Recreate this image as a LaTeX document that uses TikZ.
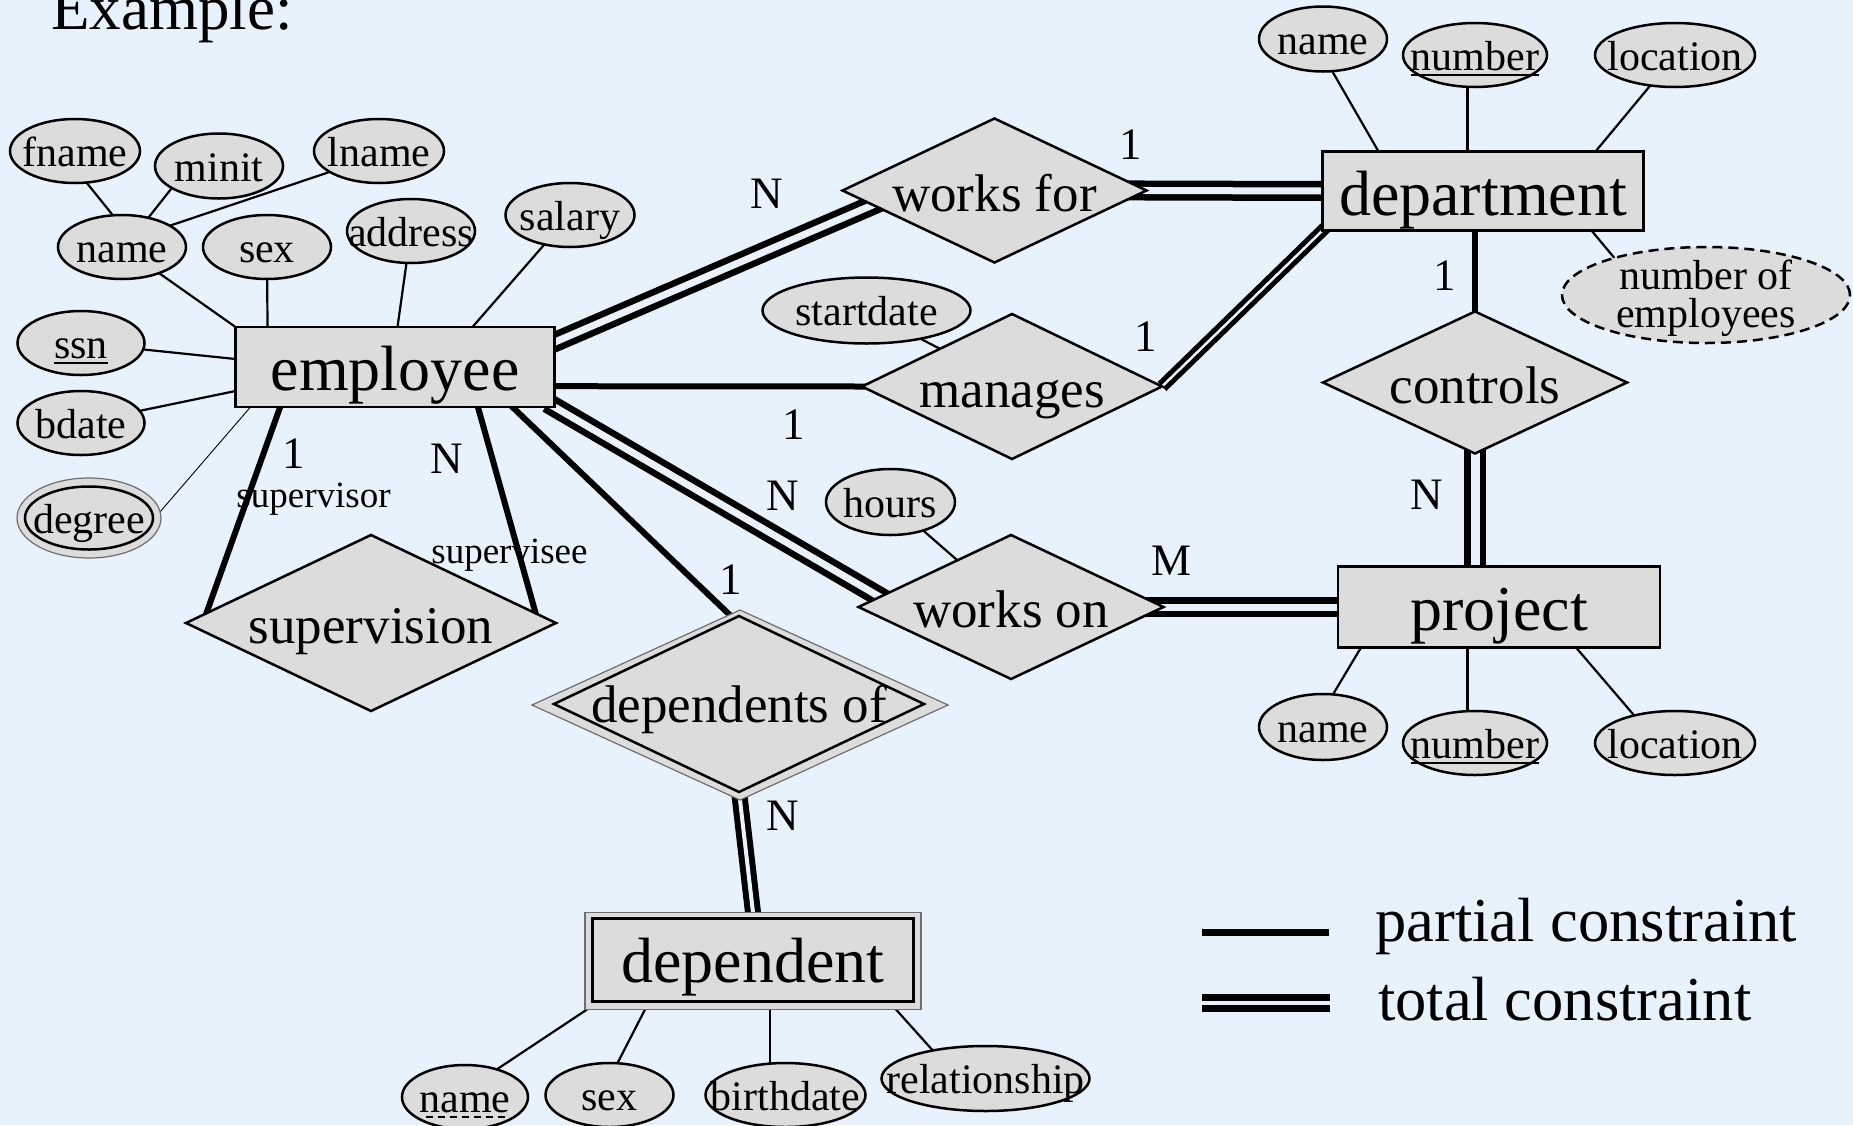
\documentclass[tikz,border=0pt]{standalone}
\usepackage{fontspec}
\setmainfont{Liberation Serif}
\usetikzlibrary{shapes.geometric,calc}

\definecolor{bgblue}{RGB}{232,242,252}
\definecolor{shapegray}{RGB}{220,220,220}
\definecolor{rimgray}{RGB}{110,110,110}

\pgfdeclarelayer{bg}
\pgfdeclarelayer{edges}
\pgfsetlayers{bg,edges,main}

% text of zero size, lowered by #1 from the node centre, so shapes keep their set size
\newcommand\ctext[2]{\smash{\raisebox{#1}{\makebox[0pt]{#2}}}}
% key attribute: solid underline; partial key: dashed underline
\newcommand\undl[1]{\setbox0\hbox{#1}\rlap{\raisebox{-6pt}{\rule{\wd0}{2pt}}}\box0}
\newcommand\dundl[1]{\setbox0\hbox{#1}\rlap{\raisebox{-6pt}{\hbox to \wd0{\cleaders\hbox to 12pt{\hss\rule{7pt}{2pt}\hss}\hfill}}}\box0}

\tikzset{
  shapebase/.style={draw, line width=2.5pt, fill=shapegray, inner sep=0pt, outer sep=0pt},
  attr/.style={shapebase, ellipse, minimum width=128pt, minimum height=64pt,
    font=\fontsize{42}{46}\selectfont},
  entity/.style={shapebase, rectangle, minimum width=320pt, minimum height=80pt,
    font=\fontsize{64}{70}\selectfont},
  rel/.style={shapebase, diamond, minimum width=304pt, minimum height=144pt,
    font=\fontsize{53}{58}\selectfont},
  rim/.style={draw=rimgray, line width=1.2pt},
  card/.style={font=\fontsize{45}{50}\selectfont, inner sep=0pt, anchor=base},
  role/.style={font=\fontsize{37}{40}\selectfont, inner sep=0pt, anchor=base},
  attrline/.style={line width=2.2pt},
  % participation lines run a little under the shapes they join
  partial/.style={line width=6pt, shorten <=-8pt, shorten >=-8pt},
  total/.style={line width=6.5pt, double=bgblue, double distance=7pt,
    shorten <=-8pt, shorten >=-8pt},
}

\begin{document}
\begin{tikzpicture}[x=1pt,y=-1pt]
\useasboundingbox (0,0) rectangle (1853,1125);
\begin{pgfonlayer}{bg}
  \fill[bgblue] (0,0) rectangle (1853,1125);
\end{pgfonlayer}

\node[font=\fontsize{63}{68}\selectfont, inner sep=0pt, anchor=base west] (title) at (51,29) {Example:};

% ---------- entities ----------
\node[entity, minimum width=319pt] (emp) at (395,367) {\ctext{-23pt}{employee}};
\node[entity, minimum width=321pt, minimum height=79pt] (dept) at (1483,191) {\ctext{-24pt}{department}};
\node[entity, minimum width=322pt, minimum height=81pt] (prj) at (1499,607) {\ctext{-23pt}{project}};
\node[entity, rim, minimum width=336pt, minimum height=97pt] (depb) at (753,961) {};
\node[entity, minimum width=321pt, minimum height=83pt] (dep) at (753,960) {\ctext{-22pt}{dependent}};

% ---------- relationships ----------
\node[rel] (wf) at (994.5,190.5) {\ctext{-21pt}{works for}};
\node[rel, minimum width=300pt, minimum height=145pt] (mg) at (1012,386.5) {\ctext{-21pt}{manages}};
\node[rel, minimum height=142pt] (ctl) at (1475,382.5) {\ctext{-21pt}{controls}};
\node[rel, minimum width=305pt] (won) at (1011,607) {\ctext{-20pt}{works on}};
\node[rel, minimum width=370pt, minimum height=176pt] (sup) at (371,623) {\ctext{-20pt}{supervision}};
\node[rel, rim, minimum width=416pt, minimum height=190pt] (dpo) at (740,705) {};
\node[rel, minimum width=370pt, minimum height=176pt] (dpi) at (739,704) {\ctext{-18pt}{dependents of}};

% ---------- attributes of employee ----------
\node[attr, minimum width=130pt] (fname) at (75,151) {\ctext{-15pt}{fname}};
\node[attr, minimum height=65pt] (minit) at (219,166) {\ctext{-15pt}{minit}};
\node[attr, minimum width=130pt] (lname) at (379,151) {\ctext{-15pt}{lname}};
\node[attr] (nm) at (122,247) {\ctext{-15pt}{name}};
\node[attr] (esex) at (267,247) {\ctext{-15pt}{sex}};
\node[attr] (addr) at (411,231) {\ctext{-15pt}{address}};
\node[attr, minimum width=129pt] (sal) at (570,215) {\ctext{-15pt}{salary}};
\node[attr, minimum width=127pt] (ssn) at (81,343) {\ctext{-15pt}{\undl{ssn}}};
\node[attr, minimum width=127pt] (bdate) at (81,423) {\ctext{-15pt}{bdate}};
\node[attr, rim, minimum width=144pt, minimum height=80pt] (degree) at (89,518) {};
\node[attr, minimum height=63pt] (degin) at (89,518) {\ctext{-15pt}{degree}};

% ---------- attributes of department ----------
\node[attr, minimum height=65pt] (dname) at (1323,39) {\ctext{-15pt}{name}};
\node[attr, minimum width=144pt] (dnum) at (1475,55) {\ctext{-15pt}{\undl{number}}};
\node[attr, minimum width=160pt] (dloc) at (1675,55) {\ctext{-15pt}{location}};
\node[attr, dashed, dash pattern=on 10pt off 6pt, minimum width=288pt, minimum height=96pt] (noe) at (1706,295)
  {\ctext{6pt}{number of}\ctext{-32pt}{employees}};

% ---------- attributes of project ----------
\node[attr, minimum height=66pt] (pname) at (1323,727) {\ctext{-15pt}{name}};
\node[attr, minimum width=144pt] (pnum) at (1475,743) {\ctext{-15pt}{\undl{number}}};
\node[attr, minimum width=160pt] (ploc) at (1675,743) {\ctext{-15pt}{location}};

% ---------- attributes of relationships ----------
\node[attr, minimum width=208pt, minimum height=66pt] (sd) at (866.5,310.5) {\ctext{-15pt}{startdate}};
\node[attr, minimum width=129pt, minimum height=66pt] (hours) at (890.5,502) {\ctext{-15pt}{hours}};

% ---------- attributes of dependent ----------
\node[attr, minimum width=126pt] (dnm) at (465,1097) {\ctext{-15pt}{\dundl{name}}};
\node[attr] (dsex) at (609.5,1095) {\ctext{-15pt}{sex}};
\node[attr, minimum width=160pt] (bdt) at (785.5,1095) {\ctext{-15pt}{birthdate}};
\node[attr, minimum width=208pt, minimum height=65pt] (drel) at (985.5,1078.5) {\ctext{-15pt}{relationship}};

% ---------- cardinalities and roles ----------
\node[card] (cwfn) at (767,208) {N};
\node[card] (cwf1) at (1131,159) {1};
\node[card] (cmg1) at (1146,351) {1};
\node[card] (cme1) at (794,439) {1};
\node[card] (cct1) at (1445,290) {1};
\node[card] (cctn) at (1427,509) {N};
\node[card] (cwom) at (1171,575) {M};
\node[card] (cwon) at (782.5,510) {N};
\node[card] (cdp1) at (731,594) {1};
\node[card] (cdpn) at (782.5,830) {N};
\node[card] (csp1) at (293.5,468) {1};
\node[card] (cspn) at (447,473) {N};
\node[role] (rsup) at (313.5,507) {supervisor};
\node[role] (rsee) at (509.5,563) {supervisee};

% ---------- legend ----------
\coordinate (lpa) at (1202,932);
\coordinate (lpb) at (1329,932);
\coordinate (lta) at (1202,1002.5);
\coordinate (ltb) at (1330,1002.5);
\node[font=\fontsize{62.5}{68}\selectfont, inner sep=0pt, anchor=base west] (lgp) at (1375,941) {partial constraint};
\node[font=\fontsize{62.5}{68}\selectfont, inner sep=0pt, anchor=base west] (lgt) at (1378,1020) {total constraint};

% ---------- connectors ----------
\begin{pgfonlayer}{edges}
  % composite name
  \draw[attrline] (fname.-70) -- (nm.106);
  \draw[attrline] (minit.205) -- (nm.48);
  \draw[attrline] (lname.203) -- (nm.24);
  % employee attributes
  \draw[attrline] (nm) -- (emp.north west);
  \draw[attrline] (esex) -- ($(emp.north west)+(32,0)$);
  \draw[attrline] (addr) -- ($(emp.north west)+(162,0)$);
  \draw[attrline] (sal) -- ($(emp.north west)+(237,0)$);
  \draw[attrline] (ssn) -- ($(emp.north west)+(0,32)$);
  \draw[attrline] (bdate) -- ($(emp.north west)+(0,64)$);
  \draw[line width=0.9pt] (degree.5) -- ($(emp.south west)+(15,0)$);
  % department attributes
  \coordinate (dn1) at ($(dept.north west)+(145,0)$);
  \draw[attrline] (dname.-74) -- ($(dept.north west)+(56,0)$);
  \draw[attrline] (dn1) -- (dn1 |- dnum.south);
  \draw[attrline] (dloc.-129) -- ($(dept.north west)+(273,0)$);
  \draw[attrline] (noe.158) -- ($(dept.south west)+(269,0)$);
  % project attributes
  \coordinate (pn1) at ($(prj.south west)+(129.5,0)$);
  \draw[attrline] (pname.73) -- ($(prj.south west)+(23,0)$);
  \draw[attrline] (pn1) -- (pn1 |- pnum.north);
  \draw[attrline] (ploc.146) -- ($(prj.south west)+(238,0)$);
  % dependent attributes
  \coordinate (bd1) at ($(depb.south west)+(185,0)$);
  \draw[attrline] (dnm.41) -- ($(depb.south west)+(2,0)$);
  \draw[attrline] (dsex.76) -- ($(depb.south west)+(60,0)$);
  \draw[attrline] (bd1) -- (bd1 |- bdt.north);
  \draw[attrline] (drel.152) -- ($(depb.south west)+(311,0)$);
  % relationship attributes
  \draw[attrline] (sd) -- (mg);
  \draw[attrline] (hours) -- (won);
  % relationships
  \draw[total] ($(emp.north east)!0.19!(emp.south east)$) -- ($(wf.west)!0.2!(wf.south)$);
  \draw[total, shorten <=-30pt] (wf.east) -- (dept.west);
  \draw[partial] ($(emp.north east)!0.74!(emp.south east)$) -- (mg.west);
  \draw[total, line width=5pt, double distance=2.5pt, shorten <=0pt] (mg.east) -- (dept.south west);
  \draw[partial, shorten <=-20pt] (ctl.north) -- (ctl.north |- dept.south);
  \draw[total, double distance=9pt, shorten <=-30pt] (ctl.south) -- (ctl.south |- prj.north);
  \draw[total] (emp.south east) -- ($(won.west)!0.14!(won.north)$);
  \draw[total, shorten <=-30pt] (won.east) -- (prj.west);
  \draw[partial] ($(emp.south west)!0.868!(emp.south east)$) -- ($(dpo.north)!0.05!(dpo.west)$);
  \draw[total, line width=6pt, double distance=4pt, shorten <=-30pt] (dpo.south) -- (depb.north);
  \draw[partial] ($(emp.south west)!0.14!(emp.south east)$) -- ($(sup.west)!0.11!(sup.north)$);
  \draw[partial] ($(emp.south west)!0.76!(emp.south east)$) -- ($(sup.east)!0.11!(sup.north)$);
  % legend
  \draw[line width=7pt] (lpa) -- (lpb);
  \draw[line width=7pt, double=bgblue, double distance=4pt] (lta) -- (ltb);
\end{pgfonlayer}
\end{tikzpicture}
\end{document}
